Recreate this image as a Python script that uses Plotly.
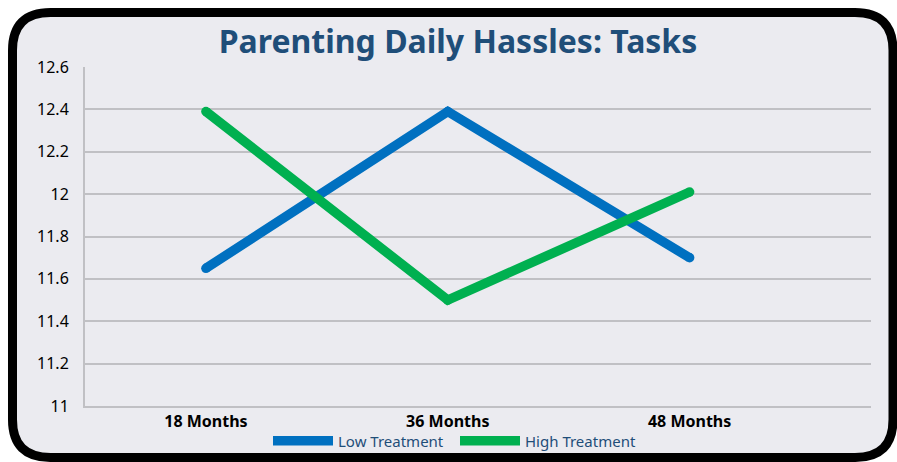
import plotly.graph_objects as go

months = ["18 Months", "36 Months", "48 Months"]
low_treatment = [11.65, 12.39, 11.70]
high_treatment = [12.39, 11.50, 12.01]
y_ticks = [11, 11.2, 11.4, 11.6, 11.8, 12, 12.2, 12.4, 12.6]
y_tick_labels = ["11", "11.2", "11.4", "11.6", "11.8", "12", "12.2", "12.4", "12.6"]

W, H = 897, 462
L, R, T, B = 85, 871, 67, 406  # plot area in pixels

BLUE = "#0070C0"
GREEN = "#00B050"
NAVY = "#1F4E79"
GRID = "#C0C0C4"
FONT = "Noto Sans"


def px(x):
    return (x - L) / (R - L)


def py(y):
    return (B - y) / (B - T)


def rounded_rect(x0, y0, x1, y1, r):
    pts = [
        ("M", [(x0 + r, y0)]),
        ("L", [(x1 - r, y0)]),
        ("Q", [(x1, y0), (x1, y0 + r)]),
        ("L", [(x1, y1 - r)]),
        ("Q", [(x1, y1), (x1 - r, y1)]),
        ("L", [(x0 + r, y1)]),
        ("Q", [(x0, y1), (x0, y1 - r)]),
        ("L", [(x0, y0 + r)]),
        ("Q", [(x0, y0), (x0 + r, y0)]),
    ]
    s = ""
    for cmd, coords in pts:
        s += cmd + " ".join("%.5f,%.5f" % (px(a), py(b)) for a, b in coords) + " "
    return s + "Z"


fig = go.Figure()

for name, vals, col in [("Low Treatment", low_treatment, BLUE),
                        ("High Treatment", high_treatment, GREEN)]:
    fig.add_trace(go.Scatter(
        x=months, y=vals, name=name, mode="lines",
        line=dict(color=col, width=9.5),
    ))
    # round caps / joins
    fig.add_trace(go.Scatter(
        x=months, y=vals, mode="markers", showlegend=False, hoverinfo="skip",
        marker=dict(color=col, size=9.5, line=dict(width=0)),
    ))

fig.update_layout(
    width=W, height=H,
    margin=dict(l=L, r=W - R, t=T, b=H - B, autoexpand=False),
    paper_bgcolor="white",
    plot_bgcolor="rgba(0,0,0,0)",
    font=dict(family=FONT, color="black"),
    title=dict(text="<b>Parenting Daily Hassles: Tasks</b>", x=px(458), xref="paper",
               xanchor="center", y=1 - 42 / H, yanchor="middle",
               font=dict(size=32, color=NAVY, family=FONT)),
    xaxis=dict(type="category", range=[-0.5, 2.75], showgrid=False, showline=True,
               linecolor=GRID, linewidth=2, mirror=False,
               zeroline=False, ticks="", tickfont=dict(size=16, color="black", family=FONT),
               ticklabelstandoff=0),
    yaxis=dict(range=[11, 12.6], tickvals=y_ticks, ticktext=y_tick_labels,
               showgrid=True, gridcolor=GRID, gridwidth=2,
               showline=True, linecolor=GRID, linewidth=2,
               zeroline=False, ticks="", ticklabelstandoff=11,
               tickfont=dict(size=16, color="black", family=FONT)),
    showlegend=True,
    legend=dict(orientation="h", x=px(455), xanchor="center", y=py(441), yanchor="middle",
                itemwidth=60, entrywidth=112, font=dict(size=15, color=NAVY, family=FONT),
                bgcolor="rgba(0,0,0,0)"),
    shapes=[dict(type="path", xref="paper", yref="paper", layer="below",
                 path=rounded_rect(12.5, 12.5, 893, 457.5, 38),
                 fillcolor="#EBEBF0", line=dict(color="black", width=9))],
)

fig.update_xaxes(tickfont=dict(weight="bold"))

fig.write_html("out.html", config={"displayModeBar": False},
               post_script="document.body.style.margin='0';")
